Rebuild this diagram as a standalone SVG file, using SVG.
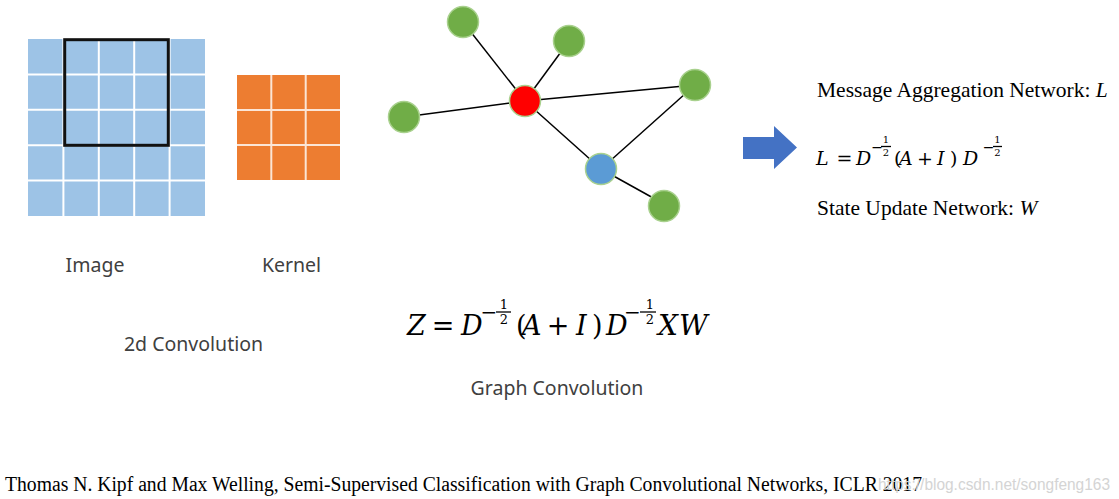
<svg xmlns="http://www.w3.org/2000/svg" width="1119" height="499" viewBox="0 0 1119 499">
<style>
.lbl{font-family:"Noto Sans","Open Sans",sans-serif;font-size:19.5px;fill:#404040;text-anchor:middle}
.ser{font-family:"Liberation Serif","Times New Roman",serif;fill:#000}
.m{font-family:"DejaVu Serif","Liberation Serif",serif;fill:#000}
.it{font-style:italic}
.mid{text-anchor:middle}
.gl{stroke:#fff;stroke-width:2}
.kl{stroke:#fbe5d6;stroke-width:2}
.edge{stroke:#000;stroke-width:1.5}
.g{fill:#70AD47;stroke:#A9D18E;stroke-width:1.5}
.bar{stroke:#000;stroke-width:1.3}
</style>
<rect width="1119" height="499" fill="#fff"/>
<g id="image-grid">
<rect x="28" y="39" width="177" height="177" fill="#9DC3E6"/>
<line class="gl" x1="63.4" y1="39" x2="63.4" y2="216"/>
<line class="gl" x1="98.8" y1="39" x2="98.8" y2="216"/>
<line class="gl" x1="134.2" y1="39" x2="134.2" y2="216"/>
<line class="gl" x1="169.6" y1="39" x2="169.6" y2="216"/>
<line class="gl" x1="28" y1="74.4" x2="205" y2="74.4"/>
<line class="gl" x1="28" y1="109.8" x2="205" y2="109.8"/>
<line class="gl" x1="28" y1="145.2" x2="205" y2="145.2"/>
<line class="gl" x1="28" y1="180.6" x2="205" y2="180.6"/>
<rect x="64.7" y="39.7" width="103.6" height="105.6" fill="none" stroke="#111" stroke-width="3"/>
</g>
<g id="kernel">
<rect x="237" y="75" width="103" height="105" fill="#ED7D31"/>
<line class="kl" x1="271.3" y1="75" x2="271.3" y2="180"/>
<line class="kl" x1="305.7" y1="75" x2="305.7" y2="180"/>
<line class="kl" x1="237" y1="110" x2="340" y2="110"/>
<line class="kl" x1="237" y1="145" x2="340" y2="145"/>
</g>
<g id="connectors">
<line class="edge" x1="525" y1="101" x2="463" y2="22"/>
<line class="edge" x1="525" y1="101" x2="569" y2="41"/>
<line class="edge" x1="525" y1="101" x2="404" y2="117"/>
<line class="edge" x1="525" y1="101" x2="695" y2="85"/>
<line class="edge" x1="525" y1="101" x2="601" y2="169"/>
<line class="edge" x1="601" y1="169" x2="695" y2="85"/>
<line class="edge" x1="601" y1="169" x2="664" y2="204"/>
</g>
<g id="node-g1"><circle class="g" cx="463" cy="22" r="15.5"/></g>
<g id="node-g2"><circle class="g" cx="569" cy="41" r="15.5"/></g>
<g id="node-g3"><circle class="g" cx="695" cy="85" r="15.5"/></g>
<g id="node-g4"><circle class="g" cx="404" cy="117" r="15.5"/></g>
<g id="node-g5"><circle class="g" cx="664" cy="206" r="15.5"/></g>
<g id="node-red"><circle cx="525" cy="101" r="15.5" fill="#FF0000" stroke="#A9D18E" stroke-width="1.5"/></g>
<g id="node-blue"><circle cx="601" cy="169" r="15.5" fill="#5B9BD5" stroke="#A9D18E" stroke-width="1.5"/></g>
<g id="arrow">
<polygon points="743,137 774,137 774,126 797,147.5 774,169 774,159 743,159" fill="#4472C4"/>
</g>
<g id="labels">
<text class="lbl" x="95" y="272">Image</text>
<text class="lbl" x="291.5" y="272">Kernel</text>
<text class="lbl" x="193.5" y="351">2d Convolution</text>
<text class="lbl" x="557" y="395">Graph Convolution</text>
</g>
<g id="main-formula" class="m">
<text class="it" x="407" y="335" font-size="27">Z</text>
<text class="mid" x="443" y="335" font-size="27">=</text>
<text class="it" x="461" y="335" font-size="27">D</text>
<text class="mid" x="489" y="319" font-size="20">−</text>
<line class="bar" x1="496" y1="312" x2="511" y2="312"/>
<text class="mid" x="504" y="309" font-size="13">1</text>
<text class="mid" x="504" y="324" font-size="13">2</text>
<text x="516" y="335" font-size="27">(</text>
<text class="it" x="522" y="335" font-size="27">A</text>
<text class="mid" x="558" y="335" font-size="27">+</text>
<text class="it" x="576" y="335" font-size="27">I</text>
<text x="592" y="335" font-size="27">)</text>
<text class="it" x="606" y="335" font-size="27">D</text>
<text class="mid" x="632.5" y="319" font-size="20">−</text>
<line class="bar" x1="640" y1="312" x2="656" y2="312"/>
<text class="mid" x="650" y="309" font-size="13">1</text>
<text class="mid" x="650" y="324" font-size="13">2</text>
<text class="it" x="658" y="335" font-size="28">X</text>
<text class="it" x="679" y="335" font-size="28">W</text>
</g>
<g id="right-text">
<text class="ser" x="817" y="97" font-size="21.5">Message Aggregation Network: <tspan class="it">L</tspan></text>
<g class="m">
<text class="it" x="816" y="165" font-size="19">L</text>
<text class="mid" x="844.5" y="165" font-size="19">=</text>
<text class="it" x="856" y="165" font-size="19">D</text>
<text class="mid" x="877" y="152" font-size="14">−</text>
<line class="bar" x1="881" y1="146.5" x2="891" y2="146.5" stroke-width="1"/>
<text class="mid" x="886" y="143" font-size="10">1</text>
<text class="mid" x="886" y="156" font-size="10">2</text>
<text x="894" y="165" font-size="19">(</text>
<text class="it" x="899" y="165" font-size="19">A</text>
<text class="mid" x="925" y="165" font-size="19">+</text>
<text class="it" x="937" y="165" font-size="19">I</text>
<text x="950" y="165" font-size="19">)</text>
<text class="it" x="963" y="165" font-size="19">D</text>
<text class="mid" x="988.5" y="152" font-size="14">−</text>
<line class="bar" x1="993" y1="146.5" x2="1002" y2="146.5" stroke-width="1"/>
<text class="mid" x="997.5" y="143" font-size="10">1</text>
<text class="mid" x="997.5" y="156" font-size="10">2</text>
</g>
<text class="ser" x="817" y="215" font-size="21.5">State Update Network: <tspan class="it">W</tspan></text>
</g>
<g id="citation">
<text class="ser" x="5" y="491" font-size="20" textLength="917" lengthAdjust="spacingAndGlyphs">Thomas N. Kipf and Max Welling, Semi-Supervised Classification with Graph Convolutional Networks, ICLR 2017</text>
<text x="878" y="490" font-family="'Liberation Sans',Arial,sans-serif" font-size="16" fill="#d4d4d4" textLength="232" lengthAdjust="spacingAndGlyphs">https://blog.csdn.net/songfeng163</text>
</g>
</svg>
